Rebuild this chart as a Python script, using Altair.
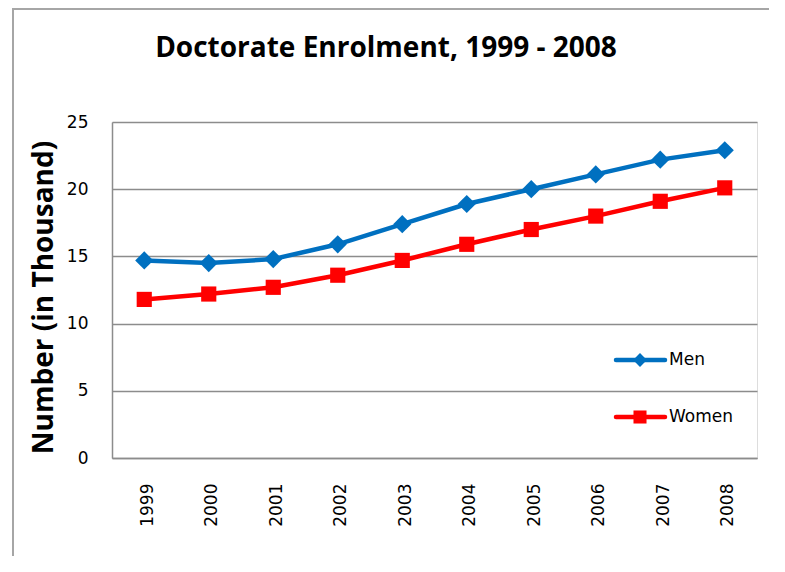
import altair as alt
import pandas as pd

years = ["1999", "2000", "2001", "2002", "2003", "2004", "2005", "2006", "2007", "2008"]
men = [14.7, 14.5, 14.8, 15.9, 17.4, 18.9, 20.0, 21.1, 22.2, 22.9]
women = [11.8, 12.2, 12.7, 13.6, 14.7, 15.9, 17.0, 18.0, 19.1, 20.1]
series = ["Men", "Women"]
colors = ["#0070C0", "#FF0000"]
shapes = ["diamond", "square"]
y_ticks = [0, 5, 10, 15, 20, 25]

rows = []
for s, vals in zip(series, [men, women]):
    for yr, v in zip(years, vals):
        rows.append({"Year": yr, "Value": v, "Series": s})
df = pd.DataFrame(rows)

W, H = 645, 336
GRAY = "#8c8c8c"

color_enc = alt.Color("Series:N", scale=alt.Scale(domain=series, range=colors), legend=None)
shape_enc = alt.Shape("Series:N", scale=alt.Scale(domain=series, range=shapes), legend=None)

base = alt.Chart(df).encode(
    x=alt.X("Year:N", sort=years,
            scale=alt.Scale(paddingInner=1, paddingOuter=0.5),
            axis=alt.Axis(title=None, labelAngle=-90, labelPadding=25, labelOffset=3,
                          ticks=False, domainColor=GRAY, domainWidth=1.5,
                          labelFont="DejaVu Sans", labelFontSize=17, labelColor="#000")),
    y=alt.Y("Value:Q", scale=alt.Scale(domain=[0, 25], nice=False),
            axis=alt.Axis(values=y_ticks, title="Number (in Thousand)", ticks=False,
                          domainColor=GRAY, domainWidth=1.5, gridColor=GRAY, gridWidth=1.3,
                          labelFont="DejaVu Sans", labelFontSize=17, labelColor="#000",
                          labelPadding=24,
                          titleFont="Open Sans", titleFontSize=28, titleFontWeight="bold",
                          titleColor="#000", titleX=-68, titleY=175,
                          titleBaseline="middle", titleAngle=-90, titleAlign="center")),
    color=color_enc,
)

lines = base.mark_line(strokeWidth=4.5)
points = base.mark_point(filled=True, opacity=1).encode(
    shape=shape_enc,
    size=alt.Size("Series:N", scale=alt.Scale(domain=series, range=[330, 230]), legend=None),
)

layers = [lines, points]

# manual legend inside plot area
leg_y = [238, 295]
leg_sizes = [190, 170]
for s, ly, sz in zip(series, leg_y, leg_sizes):
    ldf = pd.DataFrame({"Series": [s]})
    lb = alt.Chart(ldf)
    layers.append(lb.mark_rule(strokeWidth=4.5, strokeCap="round").encode(
        x=alt.value(504), x2=alt.value(553), y=alt.value(ly), color=color_enc))
    layers.append(lb.mark_point(filled=True, opacity=1).encode(
        x=alt.value(528), y=alt.value(ly), shape=shape_enc, color=color_enc,
        size=alt.value(sz)))
    layers.append(lb.mark_text(align="left", baseline="middle", font="DejaVu Sans",
                               fontSize=17, color="#000").encode(
        x=alt.value(557), y=alt.value(ly), text="Series:N"))

# chart title as a text mark placed above the plot
tdf = pd.DataFrame({"t": ["Doctorate Enrolment, 1999 - 2008"]})
layers.append(alt.Chart(tdf).mark_text(
    align="center", baseline="alphabetic", font="Open Sans", fontSize=28,
    fontWeight="bold", color="#000").encode(
    x=alt.value(274), y=alt.value(-65), text="t:N"))

# outer border (decoration)
bdf = pd.DataFrame({"b": [0]})
layers.append(alt.Chart(bdf).mark_rule(color="#a6a6a6", strokeWidth=2).encode(
    x=alt.value(-99), y=alt.value(-114), y2=alt.value(434)))
layers.append(alt.Chart(bdf).mark_rule(color="#a6a6a6", strokeWidth=2).encode(
    x=alt.value(-99), x2=alt.value(657), y=alt.value(-113)))

chart = alt.layer(*layers).properties(
    width=W, height=H,
    autosize=alt.AutoSizeParams(type="none"),
    padding={"left": 104, "top": 114, "right": 20, "bottom": 106},
).configure_view(stroke=None).configure(background="white")

chart.save("out.html", embed_options={"renderer": "svg", "actions": False})
